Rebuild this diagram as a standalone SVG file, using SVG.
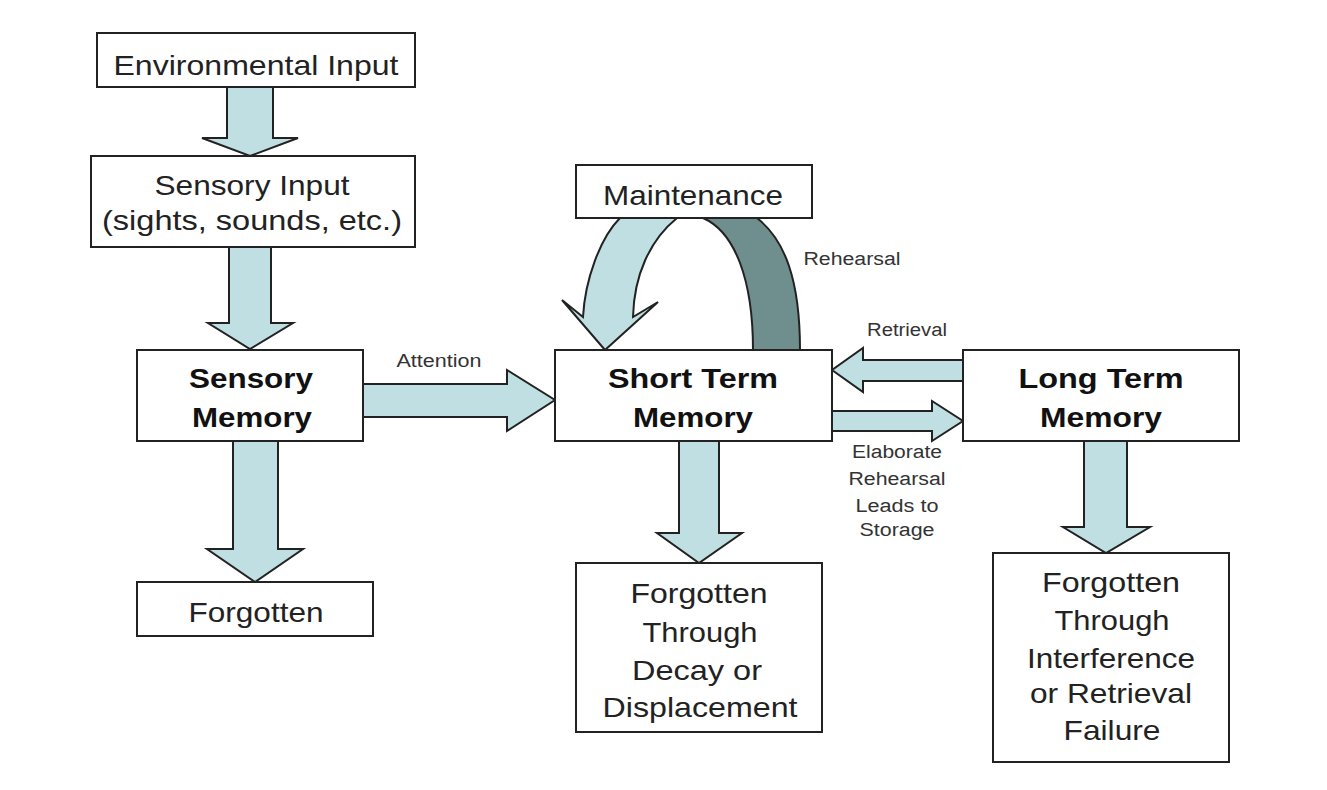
<svg xmlns="http://www.w3.org/2000/svg" width="1327" height="790" viewBox="0 0 1327 790">
<style>
.box{fill:#fff;stroke:#222;stroke-width:2}
.arr{fill:#bfdfe2;stroke:#222;stroke-width:2;stroke-linejoin:miter}
.dark{fill:#6f8f8e;stroke:#222;stroke-width:2}
text{font-family:"Liberation Sans",Arial,sans-serif;fill:#222;text-anchor:middle}
.t{font-size:28px}
.b{font-size:28px;font-weight:bold;fill:#111}
.s{font-size:18px;fill:#333}
</style>
<rect width="1327" height="790" fill="#fff"/>
<g id="connectors">
<polygon class="arr" points="227,87 273,87 273,138 298,138 250,156 202,138 227,138"/>
<polygon class="arr" points="229,247 271,247 271,323 293,323 250,349 208,323 229,323"/>
<polygon class="arr" points="233,441 278,441 278,549 303,549 255,582 207,549 233,549"/>
<polygon class="arr" points="363,384 507,384 507,370 555,400 507,431 507,417 363,417"/>
<polygon class="arr" points="679,441 719,441 719,533 742,533 699,563 657,533 679,533"/>
<polygon class="arr" points="1084,441 1127,441 1127,527 1150,527 1106,553 1063,527 1084,527"/>
<polygon class="arr" points="963,360 863,360 863,348 832,370 863,392 863,381 963,381"/>
<polygon class="arr" points="832,411 932,411 932,401 963,421 932,441 932,431 832,431"/>
<path class="dark" d="M703,218 C735,232 753,280 753,350 L800,350 C800,280 785,240 757,218 Z"/>
<path class="arr" d="M620,218 C600,238 585,280 583,317 L562,300 L605,350 L658,302 L633,317 C634,275 650,240 677,218 Z"/>
</g>
<g id="labels">
<text class="s" x="439" y="367" textLength="85" lengthAdjust="spacingAndGlyphs">Attention</text>
<text class="s" x="852" y="265" textLength="97" lengthAdjust="spacingAndGlyphs">Rehearsal</text>
<text class="s" x="907" y="336" textLength="80" lengthAdjust="spacingAndGlyphs">Retrieval</text>
<text class="s" x="897" y="458" textLength="90" lengthAdjust="spacingAndGlyphs">Elaborate</text>
<text class="s" x="897" y="485" textLength="97" lengthAdjust="spacingAndGlyphs">Rehearsal</text>
<text class="s" x="897" y="512" textLength="83" lengthAdjust="spacingAndGlyphs">Leads to</text>
<text class="s" x="897" y="536" textLength="75" lengthAdjust="spacingAndGlyphs">Storage</text>
</g>
<g id="env">
<rect class="box" x="97" y="33" width="318" height="54"/>
<text class="t" x="256" y="75" textLength="285" lengthAdjust="spacingAndGlyphs">Environmental Input</text>
</g>
<g id="sensory-input">
<rect class="box" x="91" y="156" width="324" height="91"/>
<text class="t" x="252" y="195" textLength="195" lengthAdjust="spacingAndGlyphs">Sensory Input</text>
<text class="t" x="252" y="230" textLength="300" lengthAdjust="spacingAndGlyphs">(sights, sounds, etc.)</text>
</g>
<g id="sensory-memory">
<rect class="box" x="137" y="350" width="226" height="91"/>
<text class="b" x="251" y="388" textLength="124" lengthAdjust="spacingAndGlyphs">Sensory</text>
<text class="b" x="252" y="427" textLength="120" lengthAdjust="spacingAndGlyphs">Memory</text>
</g>
<g id="forgotten">
<rect class="box" x="137" y="582" width="236" height="54"/>
<text class="t" x="256" y="622" textLength="135" lengthAdjust="spacingAndGlyphs">Forgotten</text>
</g>
<g id="maintenance">
<rect class="box" x="576" y="165" width="236" height="53"/>
<text class="t" x="693" y="205" textLength="180" lengthAdjust="spacingAndGlyphs">Maintenance</text>
</g>
<g id="stm">
<rect class="box" x="555" y="350" width="277" height="91"/>
<text class="b" x="693" y="388" textLength="170" lengthAdjust="spacingAndGlyphs">Short Term</text>
<text class="b" x="693" y="427" textLength="120" lengthAdjust="spacingAndGlyphs">Memory</text>
</g>
<g id="ltm">
<rect class="box" x="963" y="350" width="276" height="91"/>
<text class="b" x="1101" y="388" textLength="165" lengthAdjust="spacingAndGlyphs">Long Term</text>
<text class="b" x="1101" y="427" textLength="122" lengthAdjust="spacingAndGlyphs">Memory</text>
</g>
<g id="stm-forgotten">
<rect class="box" x="576" y="563" width="246" height="169"/>
<text class="t" x="699" y="603" textLength="137" lengthAdjust="spacingAndGlyphs">Forgotten</text>
<text class="t" x="700" y="642" textLength="115" lengthAdjust="spacingAndGlyphs">Through</text>
<text class="t" x="697" y="680" textLength="130" lengthAdjust="spacingAndGlyphs">Decay or</text>
<text class="t" x="700" y="717" textLength="195" lengthAdjust="spacingAndGlyphs">Displacement</text>
</g>
<g id="ltm-forgotten">
<rect class="box" x="993" y="553" width="236" height="209"/>
<text class="t" x="1111" y="592" textLength="138" lengthAdjust="spacingAndGlyphs">Forgotten</text>
<text class="t" x="1112" y="630" textLength="115" lengthAdjust="spacingAndGlyphs">Through</text>
<text class="t" x="1111" y="668" textLength="168" lengthAdjust="spacingAndGlyphs">Interference</text>
<text class="t" x="1111" y="703" textLength="162" lengthAdjust="spacingAndGlyphs">or Retrieval</text>
<text class="t" x="1112" y="740" textLength="97" lengthAdjust="spacingAndGlyphs">Failure</text>
</g>
</svg>
